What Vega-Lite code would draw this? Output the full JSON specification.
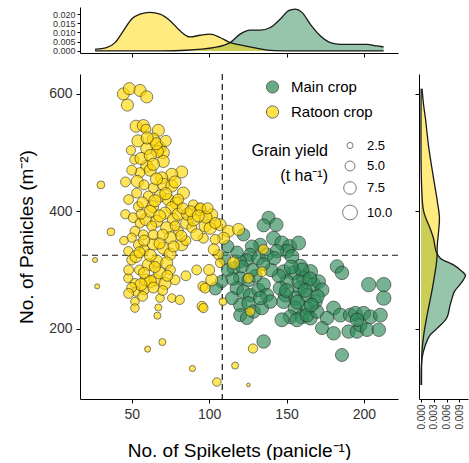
{
  "$schema": "https://vega.github.io/schema/vega-lite/v6.json",
  "autosize": {"type": "pad"},
  "padding": {"left": 17, "top": 6, "right": 0, "bottom": 0},
  "columns": 2,
  "spacing": {"row": 21, "column": 21},
  "bounds": "flush",
  "resolve": {"scale": {"color": "independent", "size": "independent"}, "legend": {"color": "independent", "size": "independent"}},
  "config": {
    "font": "Liberation Sans",
    "view": {"stroke": null},
    "axis": {"grid": false, "domainColor": "black", "tickColor": "black", "domainWidth": 1, "tickWidth": 1, "labelColor": "#333", "labelFontSize": 14, "titleFontSize": 19, "titleFontWeight": "normal", "titleColor": "black", "tickSize": 4, "labelPadding": 4, "labelOverlap": false},
    "legend": {"titleFontWeight": "normal", "titleColor": "black", "labelColor": "black"}
  },
  "datasets": {
    "pts": [
      {"s":138.4,"p":389,"g":8,"crop":"Main crop"},{"s":143.4,"p":377,"g":8.5,"crop":"Main crop"},{"s":135.2,"p":376,"g":8,"crop":"Main crop"},{"s":122.2,"p":360,"g":7.5,"crop":"Main crop"},{"s":141.6,"p":354,"g":9,"crop":"Main crop"},{"s":147,"p":346,"g":9,"crop":"Main crop"},{"s":152,"p":340,"g":9,"crop":"Main crop"},{"s":157.8,"p":346,"g":9,"crop":"Main crop"},{"s":150.3,"p":332,"g":9,"crop":"Main crop"},{"s":153.5,"p":323,"g":9,"crop":"Main crop"},
      {"s":133,"p":343,"g":8,"crop":"Main crop"},{"s":127.6,"p":340,"g":8,"crop":"Main crop"},{"s":126.5,"p":326,"g":8,"crop":"Main crop"},{"s":124.4,"p":317,"g":8,"crop":"Main crop"},{"s":120.1,"p":314,"g":7.5,"crop":"Main crop"},{"s":131.9,"p":320,"g":8.5,"crop":"Main crop"},{"s":137.3,"p":326,"g":8.5,"crop":"Main crop"},{"s":143.8,"p":332,"g":8.5,"crop":"Main crop"},{"s":158.9,"p":306,"g":9.5,"crop":"Main crop"},{"s":165.4,"p":297,"g":9.5,"crop":"Main crop"},
      {"s":161,"p":286,"g":9.5,"crop":"Main crop"},{"s":154.6,"p":295,"g":9.5,"crop":"Main crop"},{"s":148.1,"p":297,"g":9,"crop":"Main crop"},{"s":150.3,"p":280,"g":9,"crop":"Main crop"},{"s":158.9,"p":269,"g":9.5,"crop":"Main crop"},{"s":167.5,"p":275,"g":9,"crop":"Main crop"},{"s":170.7,"p":280,"g":9,"crop":"Main crop"},{"s":172.9,"p":266,"g":9,"crop":"Main crop"},{"s":163.2,"p":257,"g":9.5,"crop":"Main crop"},{"s":155.6,"p":252,"g":9.5,"crop":"Main crop"},
      {"s":149.2,"p":257,"g":9,"crop":"Main crop"},{"s":145.9,"p":269,"g":9,"crop":"Main crop"},{"s":148.1,"p":246,"g":9,"crop":"Main crop"},{"s":155.6,"p":235,"g":9.5,"crop":"Main crop"},{"s":163.2,"p":235,"g":9,"crop":"Main crop"},{"s":168.6,"p":246,"g":9,"crop":"Main crop"},{"s":152.4,"p":220,"g":9,"crop":"Main crop"},{"s":160,"p":220,"g":9,"crop":"Main crop"},{"s":165.4,"p":218,"g":9,"crop":"Main crop"},{"s":147,"p":215,"g":9,"crop":"Main crop"},
      {"s":156.7,"p":215,"g":9,"crop":"Main crop"},{"s":163.2,"p":223,"g":9,"crop":"Main crop"},{"s":169.7,"p":229,"g":8.5,"crop":"Main crop"},{"s":120.1,"p":286,"g":8.5,"crop":"Main crop"},{"s":125.5,"p":283,"g":8.5,"crop":"Main crop"},{"s":117.9,"p":269,"g":8.5,"crop":"Main crop"},{"s":122.2,"p":263,"g":8.5,"crop":"Main crop"},{"s":126.5,"p":257,"g":8.5,"crop":"Main crop"},{"s":131.9,"p":266,"g":8.5,"crop":"Main crop"},{"s":135.2,"p":275,"g":8.5,"crop":"Main crop"},
      {"s":137.3,"p":257,"g":8.5,"crop":"Main crop"},{"s":120.1,"p":240,"g":8.5,"crop":"Main crop"},{"s":125.5,"p":243,"g":8.5,"crop":"Main crop"},{"s":128.7,"p":229,"g":8.5,"crop":"Main crop"},{"s":134.1,"p":235,"g":8.5,"crop":"Main crop"},{"s":139.5,"p":246,"g":8.5,"crop":"Main crop"},{"s":114.7,"p":252,"g":8,"crop":"Main crop"},{"s":120.1,"p":223,"g":8,"crop":"Main crop"},{"s":124.4,"p":218,"g":8,"crop":"Main crop"},{"s":115.8,"p":303,"g":8,"crop":"Main crop"},
      {"s":133,"p":252,"g":8.5,"crop":"Main crop"},{"s":121.2,"p":306,"g":8,"crop":"Main crop"},{"s":182.6,"p":306,"g":8.5,"crop":"Main crop"},{"s":185.8,"p":295,"g":8.5,"crop":"Main crop"},{"s":203.1,"p":275,"g":9.5,"crop":"Main crop"},{"s":212.8,"p":275,"g":9.5,"crop":"Main crop"},{"s":212.8,"p":252,"g":9.5,"crop":"Main crop"},{"s":180.4,"p":235,"g":9,"crop":"Main crop"},{"s":176.1,"p":218,"g":8.5,"crop":"Main crop"},{"s":184.8,"p":223,"g":9,"crop":"Main crop"},
      {"s":191.2,"p":223,"g":9,"crop":"Main crop"},{"s":194.5,"p":226,"g":9,"crop":"Main crop"},{"s":199.8,"p":226,"g":9,"crop":"Main crop"},{"s":204.2,"p":220,"g":9,"crop":"Main crop"},{"s":210.6,"p":223,"g":9,"crop":"Main crop"},{"s":172.9,"p":201,"g":8,"crop":"Main crop"},{"s":180.4,"p":192,"g":8.5,"crop":"Main crop"},{"s":190.1,"p":195,"g":8.5,"crop":"Main crop"},{"s":195.5,"p":195,"g":8.5,"crop":"Main crop"},{"s":197.7,"p":206,"g":8.5,"crop":"Main crop"},
      {"s":202,"p":198,"g":8.5,"crop":"Main crop"},{"s":209.6,"p":198,"g":8.5,"crop":"Main crop"},{"s":195.5,"p":215,"g":8.5,"crop":"Main crop"},{"s":135.2,"p":178,"g":8.5,"crop":"Main crop"},{"s":185.8,"p":155,"g":8,"crop":"Main crop"},{"s":160,"p":300,"g":9,"crop":"Main crop"},{"s":158,"p":280,"g":9,"crop":"Main crop"},{"s":165,"p":285,"g":9,"crop":"Main crop"},{"s":153,"p":305,"g":9,"crop":"Main crop"},{"s":162,"p":265,"g":9,"crop":"Main crop"},
      {"s":170,"p":255,"g":8.5,"crop":"Main crop"},{"s":145,"p":290,"g":8.5,"crop":"Main crop"},{"s":140,"p":300,"g":8.5,"crop":"Main crop"},{"s":130,"p":290,"g":8,"crop":"Main crop"},{"s":128,"p":300,"g":8,"crop":"Main crop"},{"s":118,"p":330,"g":7.5,"crop":"Main crop"},{"s":112,"p":340,"g":7.5,"crop":"Main crop"},{"s":110,"p":320,"g":7.5,"crop":"Main crop"},{"s":150,"p":265,"g":9,"crop":"Main crop"},{"s":157,"p":245,"g":9,"crop":"Main crop"},
      {"s":142,"p":320,"g":8.5,"crop":"Main crop"},{"s":135,"p":310,"g":8,"crop":"Main crop"},{"s":166,"p":240,"g":9,"crop":"Main crop"},{"s":115,"p":285,"g":8,"crop":"Main crop"},{"s":108,"p":280,"g":7.5,"crop":"Main crop"},{"s":104,"p":268,"g":7.5,"crop":"Main crop"},{"s":112,"p":300,"g":7.5,"crop":"Main crop"},

      {"s":44.6,"p":600,"g":7,"crop":"Ratoon crop"},{"s":48.5,"p":609,"g":7,"crop":"Ratoon crop"},{"s":55.4,"p":606,"g":7,"crop":"Ratoon crop"},{"s":59.7,"p":595,"g":7,"crop":"Ratoon crop"},{"s":47.2,"p":581,"g":7,"crop":"Ratoon crop"},{"s":52.8,"p":545,"g":7,"crop":"Ratoon crop"},{"s":57.5,"p":546,"g":7,"crop":"Ratoon crop"},{"s":59.2,"p":540,"g":5,"crop":"Ratoon crop"},{"s":67.2,"p":538,"g":7,"crop":"Ratoon crop"},{"s":64,"p":523,"g":7,"crop":"Ratoon crop"},
      {"s":49.5,"p":504,"g":4.5,"crop":"Ratoon crop"},{"s":51.7,"p":488,"g":4.5,"crop":"Ratoon crop"},{"s":59.7,"p":507,"g":7,"crop":"Ratoon crop"},{"s":68.3,"p":508,"g":7,"crop":"Ratoon crop"},{"s":70.4,"p":500,"g":7,"crop":"Ratoon crop"},{"s":66.6,"p":502,"g":7,"crop":"Ratoon crop"},{"s":59.7,"p":477,"g":7,"crop":"Ratoon crop"},{"s":70.4,"p":485,"g":7,"crop":"Ratoon crop"},{"s":82.3,"p":467,"g":7,"crop":"Ratoon crop"},{"s":75.9,"p":463,"g":7,"crop":"Ratoon crop"},
      {"s":55.4,"p":466,"g":5,"crop":"Ratoon crop"},{"s":53.6,"p":451,"g":7,"crop":"Ratoon crop"},{"s":69.4,"p":457,"g":7,"crop":"Ratoon crop"},{"s":70.4,"p":446,"g":7,"crop":"Ratoon crop"},{"s":75.9,"p":443,"g":7,"crop":"Ratoon crop"},{"s":64,"p":440,"g":5,"crop":"Ratoon crop"},{"s":53.2,"p":431,"g":5,"crop":"Ratoon crop"},{"s":60.7,"p":426,"g":5,"crop":"Ratoon crop"},{"s":68.3,"p":426,"g":7,"crop":"Ratoon crop"},{"s":83.4,"p":431,"g":7,"crop":"Ratoon crop"},
      {"s":73.7,"p":420,"g":7,"crop":"Ratoon crop"},{"s":78.7,"p":414,"g":7,"crop":"Ratoon crop"},{"s":89.8,"p":411,"g":5,"crop":"Ratoon crop"},{"s":54.3,"p":408,"g":5,"crop":"Ratoon crop"},{"s":63.5,"p":408,"g":7,"crop":"Ratoon crop"},{"s":75.9,"p":406,"g":7,"crop":"Ratoon crop"},{"s":71.5,"p":397,"g":7,"crop":"Ratoon crop"},{"s":45.9,"p":395,"g":4.5,"crop":"Ratoon crop"},{"s":94.2,"p":403,"g":7,"crop":"Ratoon crop"},{"s":101.7,"p":394,"g":7,"crop":"Ratoon crop"},
      {"s":94.4,"p":406,"g":5,"crop":"Ratoon crop"},{"s":51,"p":389,"g":5,"crop":"Ratoon crop"},{"s":55.4,"p":380,"g":5,"crop":"Ratoon crop"},{"s":59.2,"p":386,"g":7,"crop":"Ratoon crop"},{"s":66.1,"p":383,"g":7,"crop":"Ratoon crop"},{"s":76.9,"p":386,"g":7,"crop":"Ratoon crop"},{"s":85.5,"p":380,"g":7,"crop":"Ratoon crop"},{"s":88.8,"p":372,"g":5,"crop":"Ratoon crop"},{"s":80.2,"p":366,"g":5,"crop":"Ratoon crop"},{"s":97.4,"p":375,"g":7,"crop":"Ratoon crop"},
      {"s":72.6,"p":372,"g":7,"crop":"Ratoon crop"},{"s":63,"p":375,"g":5,"crop":"Ratoon crop"},{"s":52.1,"p":366,"g":5,"crop":"Ratoon crop"},{"s":57.5,"p":360,"g":5,"crop":"Ratoon crop"},{"s":50,"p":355,"g":4.5,"crop":"Ratoon crop"},{"s":64,"p":344,"g":7,"crop":"Ratoon crop"},{"s":54.3,"p":343,"g":5,"crop":"Ratoon crop"},{"s":70.4,"p":337,"g":7,"crop":"Ratoon crop"},{"s":82.3,"p":343,"g":7,"crop":"Ratoon crop"},{"s":74.8,"p":327,"g":7,"crop":"Ratoon crop"},
      {"s":47.8,"p":332,"g":4.5,"crop":"Ratoon crop"},{"s":50,"p":317,"g":5,"crop":"Ratoon crop"},{"s":52.8,"p":323,"g":7,"crop":"Ratoon crop"},{"s":60.7,"p":309,"g":7,"crop":"Ratoon crop"},{"s":66.3,"p":315,"g":7,"crop":"Ratoon crop"},{"s":72.6,"p":312,"g":7,"crop":"Ratoon crop"},{"s":47.8,"p":286,"g":4.5,"crop":"Ratoon crop"},{"s":52.1,"p":277,"g":5,"crop":"Ratoon crop"},{"s":59.2,"p":283,"g":7,"crop":"Ratoon crop"},{"s":65.1,"p":283,"g":7,"crop":"Ratoon crop"},
      {"s":71.5,"p":277,"g":7,"crop":"Ratoon crop"},{"s":78,"p":283,"g":5,"crop":"Ratoon crop"},{"s":52.8,"p":263,"g":4.5,"crop":"Ratoon crop"},{"s":58.1,"p":266,"g":5,"crop":"Ratoon crop"},{"s":52.1,"p":246,"g":4,"crop":"Ratoon crop"},{"s":52.1,"p":235,"g":4,"crop":"Ratoon crop"},{"s":68.3,"p":252,"g":4,"crop":"Ratoon crop"},{"s":75.9,"p":252,"g":4,"crop":"Ratoon crop"},{"s":81,"p":249,"g":4.5,"crop":"Ratoon crop"},{"s":67.2,"p":236,"g":3,"crop":"Ratoon crop"},
      {"s":66.6,"p":222,"g":3,"crop":"Ratoon crop"},{"s":30.1,"p":445,"g":3.5,"crop":"Ratoon crop"},{"s":36.6,"p":365,"g":3.5,"crop":"Ratoon crop"},{"s":26.3,"p":317,"g":2,"crop":"Ratoon crop"},{"s":27.7,"p":272,"g":2,"crop":"Ratoon crop"},{"s":69.8,"p":177,"g":3,"crop":"Ratoon crop"},{"s":60.3,"p":165,"g":2.5,"crop":"Ratoon crop"},{"s":95.9,"p":272,"g":5,"crop":"Ratoon crop"},{"s":101.7,"p":283,"g":7,"crop":"Ratoon crop"},{"s":95.4,"p":238,"g":5,"crop":"Ratoon crop"},
      {"s":89.2,"p":132,"g":2.5,"crop":"Ratoon crop"},{"s":105,"p":109,"g":4,"crop":"Ratoon crop"},{"s":107.1,"p":377,"g":7,"crop":"Ratoon crop"},{"s":100.6,"p":371,"g":7,"crop":"Ratoon crop"},{"s":112.5,"p":366,"g":7,"crop":"Ratoon crop"},{"s":119,"p":369,"g":7,"crop":"Ratoon crop"},{"s":109.3,"p":354,"g":7,"crop":"Ratoon crop"},{"s":103.9,"p":352,"g":5,"crop":"Ratoon crop"},{"s":96.3,"p":354,"g":5,"crop":"Ratoon crop"},{"s":115.7,"p":312,"g":7,"crop":"Ratoon crop"},
      {"s":135.1,"p":335,"g":5,"crop":"Ratoon crop"},{"s":134.1,"p":297,"g":5,"crop":"Ratoon crop"},{"s":106,"p":326,"g":5,"crop":"Ratoon crop"},{"s":107.1,"p":312,"g":4.5,"crop":"Ratoon crop"},{"s":97.4,"p":269,"g":5,"crop":"Ratoon crop"},{"s":125.4,"p":286,"g":5,"crop":"Ratoon crop"},{"s":126.5,"p":229,"g":4.5,"crop":"Ratoon crop"},{"s":108.9,"p":246,"g":3.5,"crop":"Ratoon crop"},{"s":96.3,"p":235,"g":4.5,"crop":"Ratoon crop"},{"s":128.3,"p":166,"g":4.5,"crop":"Ratoon crop"},
      {"s":116.8,"p":137,"g":3,"crop":"Ratoon crop"},{"s":125.4,"p":104,"g":1.5,"crop":"Ratoon crop"},{"s":56,"p":490,"g":7,"crop":"Ratoon crop"},{"s":62,"p":470,"g":7,"crop":"Ratoon crop"},{"s":66,"p":455,"g":7,"crop":"Ratoon crop"},{"s":58,"p":445,"g":5,"crop":"Ratoon crop"},{"s":72,"p":430,"g":7,"crop":"Ratoon crop"},{"s":62,"p":400,"g":7,"crop":"Ratoon crop"},{"s":68,"p":392,"g":7,"crop":"Ratoon crop"},{"s":80,"p":395,"g":7,"crop":"Ratoon crop"},
      {"s":56,"p":395,"g":5,"crop":"Ratoon crop"},{"s":64,"p":360,"g":5,"crop":"Ratoon crop"},{"s":75,"p":355,"g":7,"crop":"Ratoon crop"},{"s":58,"p":335,"g":5,"crop":"Ratoon crop"},{"s":62,"p":325,"g":7,"crop":"Ratoon crop"},{"s":55,"p":300,"g":5,"crop":"Ratoon crop"},{"s":48,"p":300,"g":5,"crop":"Ratoon crop"},{"s":68,"p":295,"g":7,"crop":"Ratoon crop"},{"s":75,"p":300,"g":5,"crop":"Ratoon crop"},{"s":62,"p":280,"g":7,"crop":"Ratoon crop"},
      {"s":56,"p":275,"g":7,"crop":"Ratoon crop"},{"s":50,"p":270,"g":5,"crop":"Ratoon crop"},{"s":70,"p":265,"g":5,"crop":"Ratoon crop"},{"s":86,"p":395,"g":7,"crop":"Ratoon crop"},{"s":90,"p":385,"g":7,"crop":"Ratoon crop"},{"s":78,"p":375,"g":5,"crop":"Ratoon crop"},{"s":48,"p":420,"g":5,"crop":"Ratoon crop"},{"s":66,"p":515,"g":7,"crop":"Ratoon crop"},{"s":62,"p":495,"g":7,"crop":"Ratoon crop"},{"s":50,"p":470,"g":5,"crop":"Ratoon crop"},
      {"s":45,"p":350,"g":4,"crop":"Ratoon crop"},{"s":85,"p":350,"g":5,"crop":"Ratoon crop"},{"s":92,"p":360,"g":7,"crop":"Ratoon crop"},{"s":98,"p":390,"g":7,"crop":"Ratoon crop"},
      {"s":54,"p":520,"g":7,"crop":"Ratoon crop"},{"s":60,"p":525,"g":7,"crop":"Ratoon crop"},{"s":72,"p":520,"g":6,"crop":"Ratoon crop"},{"s":46,"p":450,"g":5,"crop":"Ratoon crop"},{"s":64,"p":480,"g":7,"crop":"Ratoon crop"},{"s":78,"p":450,"g":7,"crop":"Ratoon crop"},{"s":80,"p":420,"g":6,"crop":"Ratoon crop"},{"s":57,"p":415,"g":6,"crop":"Ratoon crop"},{"s":65,"p":418,"g":7,"crop":"Ratoon crop"},{"s":83,"p":405,"g":6,"crop":"Ratoon crop"},
      {"s":88,"p":400,"g":6,"crop":"Ratoon crop"},{"s":93,"p":392,"g":7,"crop":"Ratoon crop"},{"s":99,"p":405,"g":6,"crop":"Ratoon crop"},{"s":104,"p":380,"g":6,"crop":"Ratoon crop"},{"s":70,"p":360,"g":6,"crop":"Ratoon crop"},{"s":82,"p":358,"g":6,"crop":"Ratoon crop"},{"s":58,"p":350,"g":6,"crop":"Ratoon crop"},{"s":68,"p":345,"g":6,"crop":"Ratoon crop"},{"s":77,"p":340,"g":6,"crop":"Ratoon crop"},{"s":55,"p":330,"g":6,"crop":"Ratoon crop"},
      {"s":65,"p":305,"g":6,"crop":"Ratoon crop"},{"s":58,"p":295,"g":6,"crop":"Ratoon crop"},{"s":73,"p":290,"g":6,"crop":"Ratoon crop"},{"s":64,"p":270,"g":6,"crop":"Ratoon crop"},{"s":48,"p":260,"g":5,"crop":"Ratoon crop"},{"s":57,"p":255,"g":5,"crop":"Ratoon crop"},{"s":85,"p":290,"g":5,"crop":"Ratoon crop"},{"s":92,"p":300,"g":5,"crop":"Ratoon crop"},{"s":100,"p":300,"g":6,"crop":"Ratoon crop"},{"s":103,"p":335,"g":6,"crop":"Ratoon crop"}
    ],
    "topd": [
      {"x":26.3,"d":0,"crop":"Main crop"},{"x":70,"d":0,"crop":"Main crop"},{"x":85.6,"d":0.0004,"crop":"Main crop"},{"x":95,"d":0.001,"crop":"Main crop"},{"x":102.8,"d":0.0018,"crop":"Main crop"},{"x":113.6,"d":0.0045,"crop":"Main crop"},{"x":120,"d":0.0091,"crop":"Main crop"},{"x":126.5,"d":0.0113,"crop":"Main crop"},{"x":133,"d":0.0113,"crop":"Main crop"},{"x":139.5,"d":0.0127,"crop":"Main crop"},{"x":146,"d":0.0173,"crop":"Main crop"},{"x":151.3,"d":0.0218,"crop":"Main crop"},{"x":155.6,"d":0.0227,"crop":"Main crop"},{"x":160,"d":0.0209,"crop":"Main crop"},{"x":165.3,"d":0.0145,"crop":"Main crop"},{"x":171.8,"d":0.0082,"crop":"Main crop"},{"x":178.3,"d":0.0045,"crop":"Main crop"},{"x":184.7,"d":0.0036,"crop":"Main crop"},{"x":193.3,"d":0.0036,"crop":"Main crop"},{"x":202,"d":0.0036,"crop":"Main crop"},{"x":208.5,"d":0.0027,"crop":"Main crop"},{"x":212.7,"d":0.0022,"crop":"Main crop"},
      {"x":26.3,"d":0.0009,"crop":"Ratoon crop"},{"x":33.8,"d":0.0018,"crop":"Ratoon crop"},{"x":39.2,"d":0.0045,"crop":"Ratoon crop"},{"x":44.6,"d":0.0109,"crop":"Ratoon crop"},{"x":50,"d":0.0173,"crop":"Ratoon crop"},{"x":55.4,"d":0.02,"crop":"Ratoon crop"},{"x":61.8,"d":0.0209,"crop":"Ratoon crop"},{"x":68.3,"d":0.02,"crop":"Ratoon crop"},{"x":74.8,"d":0.0164,"crop":"Ratoon crop"},{"x":81.2,"d":0.0109,"crop":"Ratoon crop"},{"x":87.7,"d":0.0076,"crop":"Ratoon crop"},{"x":94.2,"d":0.0085,"crop":"Ratoon crop"},{"x":100.6,"d":0.0091,"crop":"Ratoon crop"},{"x":107.1,"d":0.0073,"crop":"Ratoon crop"},{"x":113.6,"d":0.0045,"crop":"Ratoon crop"},{"x":120,"d":0.0033,"crop":"Ratoon crop"},{"x":128.7,"d":0.0018,"crop":"Ratoon crop"},{"x":137.3,"d":0.0005,"crop":"Ratoon crop"},{"x":148,"d":0.0001,"crop":"Ratoon crop"},{"x":175,"d":0,"crop":"Ratoon crop"},{"x":212.7,"d":0,"crop":"Ratoon crop"}
    ],
    "rightd": [
      {"p":609,"d":0,"crop":"Main crop"},{"p":446,"d":0.0001,"crop":"Main crop"},{"p":400,"d":0.0006,"crop":"Main crop"},{"p":371,"d":0.0021,"crop":"Main crop"},{"p":354,"d":0.0029,"crop":"Main crop"},{"p":332,"d":0.0035,"crop":"Main crop"},{"p":320,"d":0.0045,"crop":"Main crop"},{"p":309,"d":0.0075,"crop":"Main crop"},{"p":300,"d":0.0092,"crop":"Main crop"},{"p":291,"d":0.0104,"crop":"Main crop"},{"p":283,"d":0.0099,"crop":"Main crop"},{"p":274,"d":0.009,"crop":"Main crop"},{"p":263,"d":0.0078,"crop":"Main crop"},{"p":250,"d":0.0072,"crop":"Main crop"},{"p":240,"d":0.0068,"crop":"Main crop"},{"p":218,"d":0.006,"crop":"Main crop"},{"p":200,"d":0.0037,"crop":"Main crop"},{"p":189,"d":0.0021,"crop":"Main crop"},{"p":172,"d":0.001,"crop":"Main crop"},{"p":149,"d":0.0002,"crop":"Main crop"},{"p":104,"d":0,"crop":"Main crop"},
      {"p":609,"d":0.0002,"crop":"Ratoon crop"},{"p":580,"d":0.0006,"crop":"Ratoon crop"},{"p":559,"d":0.001,"crop":"Ratoon crop"},{"p":508,"d":0.0018,"crop":"Ratoon crop"},{"p":457,"d":0.0029,"crop":"Ratoon crop"},{"p":417,"d":0.0038,"crop":"Ratoon crop"},{"p":389,"d":0.0043,"crop":"Ratoon crop"},{"p":366,"d":0.0041,"crop":"Ratoon crop"},{"p":343,"d":0.0038,"crop":"Ratoon crop"},{"p":320,"d":0.0037,"crop":"Ratoon crop"},{"p":297,"d":0.0033,"crop":"Ratoon crop"},{"p":263,"d":0.0025,"crop":"Ratoon crop"},{"p":223,"d":0.0014,"crop":"Ratoon crop"},{"p":189,"d":0.0006,"crop":"Ratoon crop"},{"p":160,"d":0.0002,"crop":"Ratoon crop"},{"p":104,"d":0.0001,"crop":"Ratoon crop"}
    ]
  },
  "concat": [
    {
      "width": 318, "height": 46,
      "data": {"name": "topd"},
      "encoding": {
        "x": {"field": "x", "type": "quantitative", "scale": {"domain": [16.6, 222], "nice": false, "zero": false}, "axis": {"values": [50, 100, 150, 200], "labels": false, "title": null}},
        "y": {"field": "d", "type": "quantitative", "stack": null, "scale": {"domain": [-0.0011, 0.0238], "nice": false, "zero": false}, "axis": {"values": [0, 0.005, 0.01, 0.015, 0.02], "format": ".3f", "title": null, "labelFontSize": 9, "tickSize": 3, "labelPadding": 2, "labelOverlap": false, "labelBound": false, "labelFlush": false}}
      },
      "layer": [
        {
          "mark": {"type": "area", "fillOpacity": 0.5, "interpolate": "monotone"},
          "encoding": {
            "y2": {"datum": 0},
            "color": {"field": "crop", "type": "nominal", "scale": {"domain": ["Main crop", "Ratoon crop"], "range": ["#2E8B57", "#FFD700"]}, "legend": null}
          }
        },
        {
          "mark": {"type": "line", "interpolate": "monotone", "color": "#1a1a1a", "strokeWidth": 1.3},
          "encoding": {
            "detail": {"field": "crop", "type": "nominal"}
          }
        }
      ]
    },
    {
      "width": 49, "height": 46,
      "data": {"values": []},
      "mark": {"type": "point", "opacity": 0},
      "encoding": {}
    },
    {
      "width": 318, "height": 325,
      "layer": [
        {
          "data": {"values": [{"v": 108.5}]},
          "mark": {"type": "rule", "strokeDash": [6, 4], "color": "#1a1a1a", "strokeWidth": 1.2},
          "encoding": {"x": {"field": "v", "type": "quantitative", "title": "No. of Spikelets (panicle⁻¹)"}}
        },
        {
          "data": {"values": [{"h": 325}]},
          "mark": {"type": "rule", "strokeDash": [6, 4], "color": "#1a1a1a", "strokeWidth": 1.2},
          "encoding": {"y": {"field": "h", "type": "quantitative", "title": "No. of Panicles (m⁻²)"}}
        },
        {
          "data": {"name": "pts"},
          "mark": {"type": "circle", "fillOpacity": 0.65, "stroke": "#222", "strokeWidth": 0.8, "strokeOpacity": 0.7},
          "encoding": {
            "x": {"field": "s", "type": "quantitative", "title": "No. of Spikelets (panicle⁻¹)", "scale": {"domain": [16.6, 222], "nice": false, "zero": false}, "axis": {"values": [50, 100, 150, 200], "titlePadding": 20}},
            "y": {"field": "p", "type": "quantitative", "title": "No. of Panicles (m⁻²)", "scale": {"domain": [80, 634], "nice": false, "zero": false}, "axis": {"values": [200, 400, 600], "titlePadding": 12}},
            "size": {"field": "g", "type": "quantitative", "scale": {"domain": [2.5, 10], "range": [38, 219], "zero": false},
              "legend": {"orient": "none", "legendX": 172, "legendY": 65, "title": ["Grain yield", "(t ha⁻¹)"], "titleOrient": "left", "titleAnchor": "start", "titleAlign": "right", "titleBaseline": "line-top", "titleFontSize": 16, "titlePadding": -63, "titleLineHeight": 25, "labelFontSize": 13, "values": [2.5, 5, 7.5, 10], "format": ".1f", "labelOffset": 9, "rowPadding": 5.5, "padding": 0,
                "symbolFillColor": "white", "symbolStrokeColor": "#777", "symbolStrokeWidth": 1, "symbolOpacity": 1}},
            "color": {"field": "crop", "type": "nominal", "scale": {"domain": ["Main crop", "Ratoon crop"], "range": ["#2E8B57", "#FFD700"]},
              "legend": {"orient": "none", "legendX": 185, "legendY": 5.5, "title": null, "labelFontSize": 15, "symbolSize": 150, "labelOffset": 11, "rowPadding": 8, "padding": 0, "symbolStrokeColor": "#333", "symbolStrokeWidth": 1, "symbolOpacity": 0.72}}
          }
        }
      ]
    },
    {
      "width": 49, "height": 325,
      "data": {"name": "rightd"},
      "encoding": {
        "y": {"field": "p", "type": "quantitative", "scale": {"domain": [80, 634], "nice": false, "zero": false}, "axis": {"values": [200, 400, 600], "labels": false, "title": null}},
        "x": {"field": "d", "type": "quantitative", "stack": null, "scale": {"domain": [-0.0005, 0.011], "nice": false, "zero": false}, "axis": {"values": [0, 0.003, 0.006, 0.009], "format": ".3f", "labelAngle": 270, "title": null, "labelFontSize": 10, "tickSize": 3, "labelPadding": 2, "labelOverlap": false, "labelBound": false, "labelFlush": false}}
      },
      "layer": [
        {
          "mark": {"type": "area", "orient": "horizontal", "fillOpacity": 0.5, "interpolate": "catmull-rom"},
          "encoding": {
            "x2": {"datum": 0},
            "color": {"field": "crop", "type": "nominal", "scale": {"domain": ["Main crop", "Ratoon crop"], "range": ["#2E8B57", "#FFD700"]}, "legend": null}
          }
        },
        {
          "mark": {"type": "line", "interpolate": "catmull-rom", "color": "#1a1a1a", "strokeWidth": 1.3},
          "encoding": {
            "detail": {"field": "crop", "type": "nominal"},
            "order": {"field": "p", "type": "quantitative"}
          }
        }
      ]
    }
  ]
}
